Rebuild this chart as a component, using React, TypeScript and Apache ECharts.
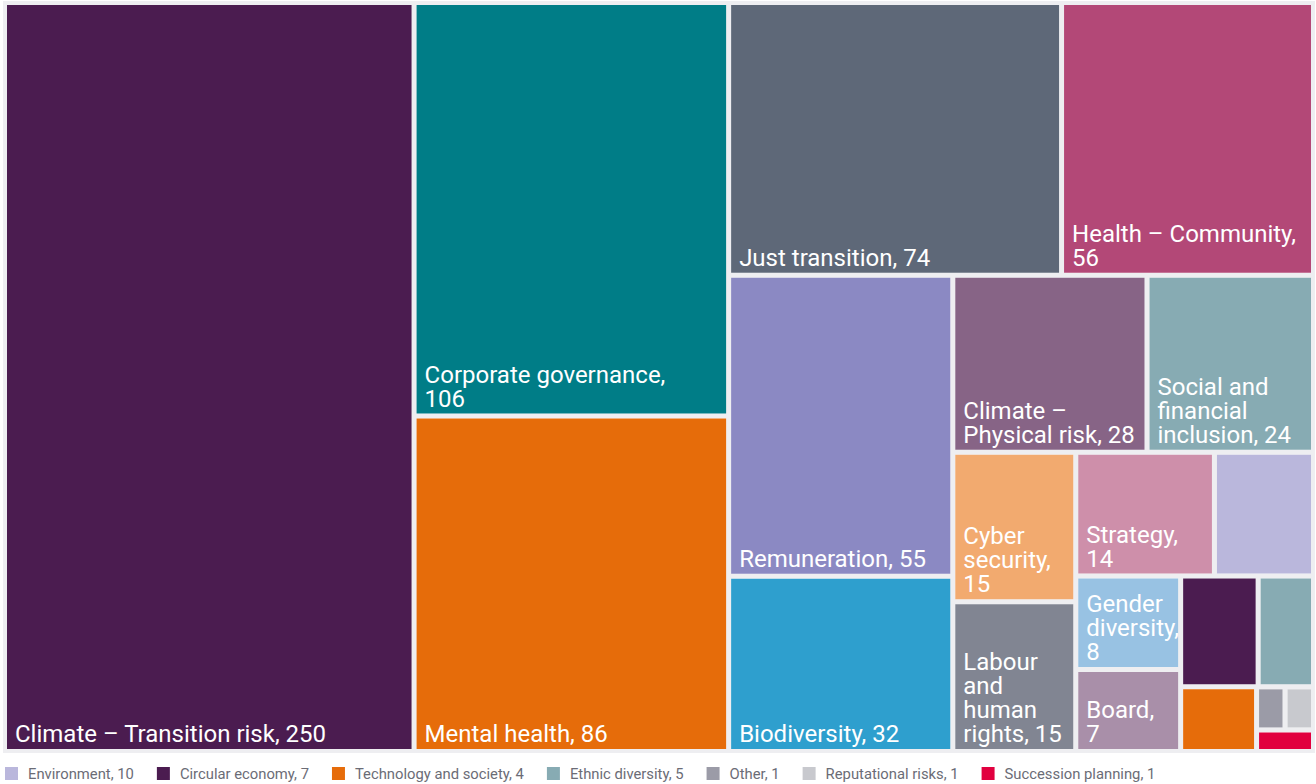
import React, { useEffect, useRef } from "react";
import * as echarts from "echarts";

// Topic names, counts and colours.
// Equal counts are listed in reverse of their on-screen order, because
// the treemap's descending sort places the later item first on ties.
const topics = [
  "Climate – Transition risk",
  "Corporate governance",
  "Mental health",
  "Just transition",
  "Health – Community",
  "Remuneration",
  "Biodiversity",
  "Climate – Physical risk",
  "Social and financial inclusion",
  "Labour and human rights",
  "Cyber security",
  "Strategy",
  "Environment",
  "Gender diversity",
  "Circular economy",
  "Board",
  "Ethnic diversity",
  "Technology and society",
  "Succession planning",
  "Reputational risks",
  "Other",
];

const counts = [250, 106, 86, 74, 56, 55, 32, 28, 24, 15, 15, 14, 10, 8, 7, 7, 5, 4, 1, 1, 1];

const colors = [
  "#4b1c50",
  "#007d87",
  "#e66c0a",
  "#5e6878",
  "#b34877",
  "#8b89c3",
  "#2e9fce",
  "#876486",
  "#87abb3",
  "#818592",
  "#f2aa6f",
  "#ce8faa",
  "#bab7dc",
  "#98c2e3",
  "#4b1c50",
  "#a98fa9",
  "#87abb3",
  "#e66c0a",
  "#e1003f",
  "#c8c9ce",
  "#9b9ba7",
];

// Cell labels with the line breaks seen in the reference ("" = no label)
const cellLabels = [
  "Climate – Transition risk, 250",
  "Corporate governance,\n106",
  "Mental health, 86",
  "Just transition, 74",
  "Health – Community,\n56",
  "Remuneration, 55",
  "Biodiversity, 32",
  "Climate –\nPhysical risk, 28",
  "Social and\nfinancial\ninclusion, 24",
  "Labour\nand\nhuman\nrights, 15",
  "Cyber\nsecurity,\n15",
  "Strategy,\n14",
  "",
  "Gender\ndiversity,\n8",
  "",
  "Board,\n7",
  "",
  "",
  "",
  "",
  "",
];

// Legend entries (the small unlabeled cells)
const legendNames = [
  "Environment",
  "Circular economy",
  "Technology and society",
  "Ethnic diversity",
  "Other",
  "Reputational risks",
  "Succession planning",
];

const BG = "#eeeef1";
const FONT = "Roboto, 'Noto Sans', sans-serif";

export default function App() {
  const ref = useRef<HTMLDivElement>(null);

  useEffect(() => {
    if (!ref.current) return;
    const chart = echarts.init(ref.current, undefined, { renderer: "svg" });

    const treeData = topics.map((name, i) => ({
      name,
      value: counts[i],
      lbl: cellLabels[i],
      itemStyle: { color: colors[i] },
    }));

    const legendData = legendNames.map((name) => {
      const i = topics.indexOf(name);
      return { name, value: counts[i], itemStyle: { color: colors[i] } };
    });

    const valueOf: Record<string, number> = {};
    topics.forEach((t, i) => (valueOf[t] = counts[i]));

    chart.setOption({
      animation: false,
      backgroundColor: "#ffffff",
      tooltip: { show: false },
      legend: {
        show: true,
        left: 5,
        top: 766,
        padding: 0,
        orient: "horizontal",
        icon: "rect",
        itemWidth: 13,
        itemHeight: 13,
        itemGap: 23,
        selectedMode: false,
        data: legendNames,
        formatter: (name: string) => `${name}, ${valueOf[name]}`,
        textStyle: {
          fontFamily: FONT,
          fontSize: 14.8,
          color: "#6b6c76",
          padding: [0, 0, 0, 5],
        },
      },
      series: [
        {
          type: "treemap",
          left: 3,
          top: 1,
          width: 1312,
          height: 752,
          roam: false,
          nodeClick: false,
          sort: "desc",
          squareRatio: 1,
          breadcrumb: { show: false },
          visibleMin: 0,
          childrenVisibleMin: 0,
          silent: true,
          levels: [
            {
              itemStyle: {
                borderColor: BG,
                borderWidth: 4,
                gapWidth: 5,
              },
            },
            {
              itemStyle: {
                borderWidth: 0,
                gapWidth: 0,
              },
            },
          ],
          label: {
            show: true,
            position: "insideBottomLeft",
            distance: 0,
            padding: [0, 0, 3, 8],
            color: "#ffffff",
            fontFamily: FONT,
            fontSize: 24,
            lineHeight: 24,
            overflow: "none",
            formatter: (p: any) => (p.data && p.data.lbl) || "",
          },
          upperLabel: { show: false },
          data: treeData,
        },
        {
          type: "pie",
          center: [-2000, -2000],
          radius: [0, 1],
          silent: true,
          label: { show: false },
          labelLine: { show: false },
          data: legendData,
        },
      ],
    });

    return () => chart.dispose();
  }, []);

  return (
    <div
      ref={ref}
      style={{ position: "absolute", left: 0, top: 0, width: 1316, height: 784 }}
    />
  );
}
